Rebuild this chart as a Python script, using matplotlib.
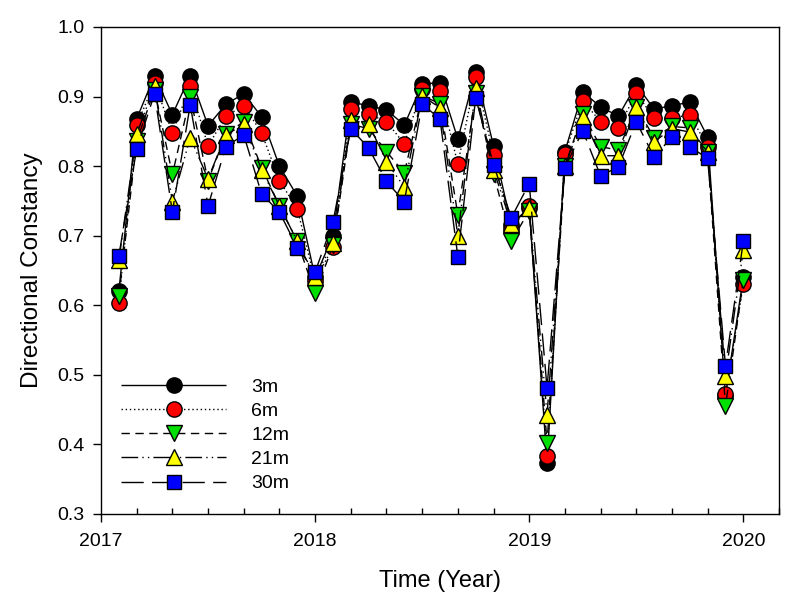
import matplotlib
matplotlib.use("Agg")
import matplotlib.pyplot as plt
from matplotlib.ticker import MultipleLocator, FormatStrFormatter
import pandas as pd

plt.rcParams['font.family'] = ['Liberation Sans', 'DejaVu Sans']

# Monthly sampling dates (Feb 2017 .. Jan 2020)
dates = pd.date_range("2017-02-01", "2020-01-01", freq="MS")
x_year = [d.year + (d.month - 1) / 12 for d in dates]

labels = ["3m", "6m", "12m", "21m", "30m"]

v3m = [0.620, 0.868, 0.930, 0.874, 0.930, 0.858, 0.889, 0.904, 0.871, 0.800, 0.757, 0.640,
       0.700, 0.892, 0.887, 0.881, 0.859, 0.918, 0.920, 0.839, 0.936, 0.829, 0.715, 0.740,
       0.373, 0.821, 0.907, 0.885, 0.872, 0.917, 0.882, 0.887, 0.892, 0.842, 0.470, 0.640]
v6m = [0.604, 0.859, 0.920, 0.848, 0.915, 0.829, 0.872, 0.887, 0.848, 0.779, 0.739, 0.635,
       0.684, 0.882, 0.875, 0.864, 0.832, 0.911, 0.908, 0.803, 0.928, 0.816, 0.710, 0.743,
       0.383, 0.818, 0.894, 0.864, 0.855, 0.905, 0.869, 0.869, 0.874, 0.828, 0.473, 0.630]
v12m = [0.613, 0.836, 0.910, 0.788, 0.900, 0.779, 0.846, 0.864, 0.798, 0.743, 0.692, 0.617,
        0.686, 0.860, 0.854, 0.821, 0.790, 0.901, 0.890, 0.730, 0.905, 0.789, 0.692, 0.736,
        0.402, 0.800, 0.875, 0.828, 0.823, 0.885, 0.841, 0.857, 0.855, 0.820, 0.455, 0.636]
v21m = [0.665, 0.846, 0.915, 0.749, 0.841, 0.782, 0.845, 0.860, 0.795, 0.743, 0.692, 0.640,
        0.690, 0.866, 0.861, 0.806, 0.770, 0.901, 0.884, 0.700, 0.912, 0.795, 0.717, 0.740,
        0.442, 0.800, 0.870, 0.815, 0.815, 0.885, 0.835, 0.854, 0.849, 0.821, 0.498, 0.680]
v30m = [0.671, 0.825, 0.904, 0.734, 0.888, 0.743, 0.828, 0.845, 0.760, 0.734, 0.683, 0.648,
        0.719, 0.854, 0.826, 0.778, 0.749, 0.889, 0.868, 0.670, 0.898, 0.802, 0.726, 0.775,
        0.481, 0.798, 0.851, 0.786, 0.799, 0.864, 0.813, 0.842, 0.828, 0.811, 0.513, 0.692]

series = [v3m, v6m, v12m, v21m, v30m]
colors = ["black", "red", "#00e000", "yellow", "blue"]
markers = ["o", "o", "v", "^", "s"]
dash_styles = [(0, ()), (0, (1, 2)), (0, (6, 4)), (0, (12, 3, 1, 3, 1, 3)), (0, (16, 6))]

fig = plt.figure(figsize=(8.0, 6.16), dpi=100)
ax = fig.add_axes([101 / 800, 1 - 514 / 616, 678 / 800, 487 / 616])

for vals, lab, c, m, ls in zip(series, labels, colors, markers, dash_styles):
    ax.plot(x_year, vals, color="black", linestyle=ls, linewidth=1.0,
            marker=m, markersize=11 if m != "s" else 9.5, markerfacecolor=c,
            markeredgecolor="black", markeredgewidth=1.0, label=lab)

ax.set_xlim(2017, 2020 + 2 / 12)
ax.set_ylim(0.3, 1.0)
ax.xaxis.set_major_locator(MultipleLocator(1))
ax.xaxis.set_minor_locator(MultipleLocator(1 / 6))
ax.yaxis.set_major_locator(MultipleLocator(0.1))
ax.yaxis.set_major_formatter(FormatStrFormatter("%.1f"))
ax.xaxis.set_major_formatter(FormatStrFormatter("%d"))

ax.tick_params(axis="x", which="major", direction="out", length=6, width=1, labelsize=14, pad=8)
ax.tick_params(axis="x", which="minor", direction="in", length=4, width=1)
ax.tick_params(axis="y", which="major", direction="out", length=6, width=1, labelsize=14, pad=6)
for sp in ax.spines.values():
    sp.set_linewidth(1.0)

ax.set_xlabel("Time (Year)", fontsize=17, labelpad=14)
ax.set_ylabel("Directional Constancy", fontsize=17.5, labelpad=10)

leg = ax.legend(loc="upper left", bbox_to_anchor=(121 / 800, 1 - 378 / 616),
                bbox_transform=fig.transFigure, frameon=False, fontsize=14,
                handlelength=5.4, handletextpad=1.3, labelspacing=0.34,
                borderpad=0, borderaxespad=0, numpoints=1)

fig.savefig("out.png", dpi=100)
